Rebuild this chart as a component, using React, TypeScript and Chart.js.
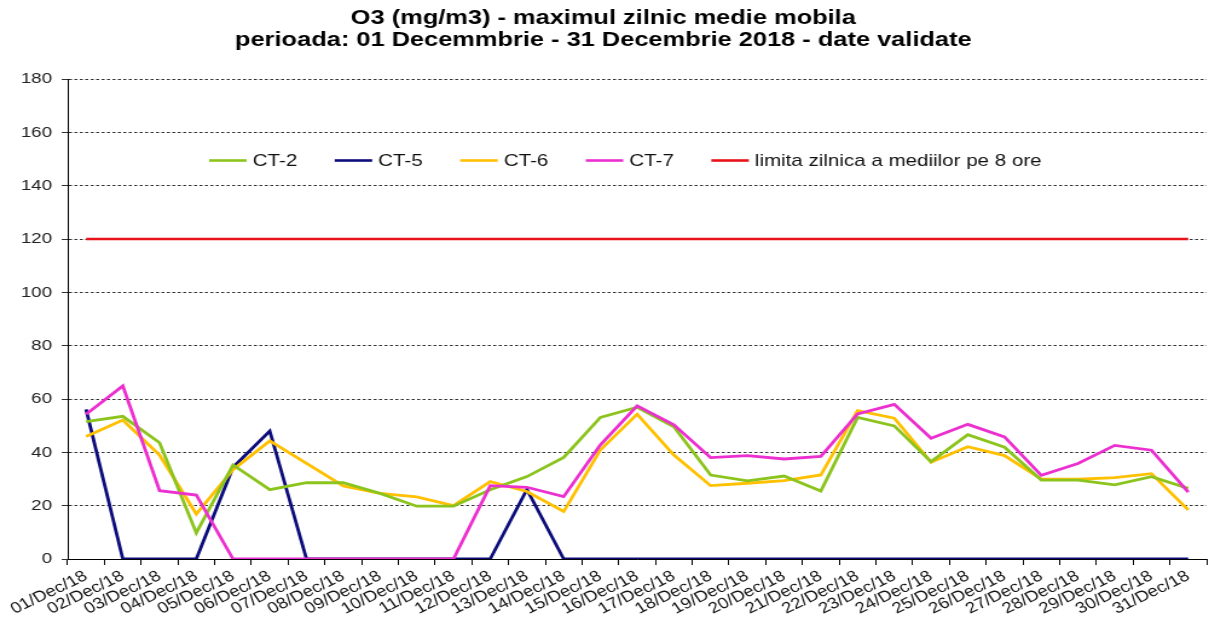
import React, { useEffect, useRef } from "react";
import { Chart, registerables } from "chart.js";

Chart.register(...registerables);

const titleLines = [
  "O3 (mg/m3) - maximul zilnic medie mobila",
  "perioada: 01 Decemmbrie - 31 Decembrie 2018 - date validate",
];

const categories = [
  "01/Dec/18", "02/Dec/18", "03/Dec/18", "04/Dec/18", "05/Dec/18", "06/Dec/18",
  "07/Dec/18", "08/Dec/18", "09/Dec/18", "10/Dec/18", "11/Dec/18", "12/Dec/18",
  "13/Dec/18", "14/Dec/18", "15/Dec/18", "16/Dec/18", "17/Dec/18", "18/Dec/18",
  "19/Dec/18", "20/Dec/18", "21/Dec/18", "22/Dec/18", "23/Dec/18", "24/Dec/18",
  "25/Dec/18", "26/Dec/18", "27/Dec/18", "28/Dec/18", "29/Dec/18", "30/Dec/18",
  "31/Dec/18",
];

const ct2 = [51.5, 53.5, 43.6, 9.8, 35.3, 26, 28.6, 28.6, 24.6, 19.8, 19.8, 26, 30.9, 38.1, 53.1, 56.9, 49.6, 31.5, 29.3, 31.1, 25.5, 53.1, 49.9, 36.5, 46.6, 41.9, 29.6, 29.6, 27.8, 30.9, 26.5];
const ct5 = [56.1, 0, 0, 0, 34.4, 48, 0, 0, 0, 0, 0, 0, 26.1, 0, 0, 0, 0, 0, 0, 0, 0, 0, 0, 0, 0, 0, 0, 0, 0, 0, 0];
const ct6 = [45.9, 52.1, 39, 16.9, 33.5, 44.3, 35.9, 27.4, 24.6, 23.3, 20, 29, 25.3, 17.8, 40.9, 54.3, 39, 27.5, 28.4, 29.4, 31.5, 55.6, 52.8, 36.3, 42.1, 38.8, 30, 29.9, 30.5, 32, 18.4];
const ct7 = [54.3, 64.9, 25.6, 24, 0, 0, 0, 0, 0, 0, 0, 27.5, 26.9, 23.4, 42.8, 57.4, 50.3, 38, 38.8, 37.5, 38.5, 54.4, 58, 45.3, 50.5, 45.8, 31.4, 35.8, 42.6, 40.8, 25.1];
const limit = [120, 120, 120, 120, 120, 120, 120, 120, 120, 120, 120, 120, 120, 120, 120, 120, 120, 120, 120, 120, 120, 120, 120, 120, 120, 120, 120, 120, 120, 120, 120];

const seriesLabels = ["CT-2", "CT-5", "CT-6", "CT-7", "limita zilnica a mediilor pe 8 ore"];
const seriesColors = ["#8cc41e", "#0c0c7a", "#ffc000", "#ec2fcf", "#e8121a"];

const yMin = 0;
const yMax = 180;
const yStep = 20;
const legendValue = 150;

const FONT = '"Liberation Sans", Arial, Helvetica, sans-serif';

const inlineLegend = {
  id: "inlineLegend",
  afterDatasetsDraw(chart: any) {
    const { ctx, chartArea, scales } = chart;
    const y = scales.y.getPixelForValue(legendValue) + 1.5;
    ctx.save();
    ctx.font = `17px ${FONT}`;
    ctx.textBaseline = "middle";
    ctx.textAlign = "left";
    let x = chartArea.left + 117;
    chart.data.datasets.forEach((ds: any) => {
      ctx.strokeStyle = ds.borderColor;
      ctx.lineWidth = 2.6;
      ctx.setLineDash([]);
      ctx.beginPath();
      ctx.moveTo(x, y);
      ctx.lineTo(x + 31, y);
      ctx.stroke();
      x += 36;
      ctx.fillStyle = "#111";
      ctx.fillText(ds.label, x, y + 1);
      x += ctx.measureText(ds.label).width + 31;
    });
    ctx.restore();
  },
};

export default function App() {
  const ref = useRef<HTMLCanvasElement | null>(null);

  useEffect(() => {
    if (!ref.current) return;
    const data = [ct2, ct5, ct6, ct7, limit];
    const orders = [1, 3, 2, 0, 4];
    const chart = new Chart(ref.current, {
      type: "line",
      data: {
        labels: categories,
        datasets: data.map((d, i) => ({
          label: seriesLabels[i],
          data: d,
          borderColor: seriesColors[i],
          backgroundColor: seriesColors[i],
          borderWidth: i === 4 ? 2.6 : 2.8,
          pointRadius: 0,
          tension: 0,
          fill: false,
          order: orders[i],
        })),
      },
      options: {
        animation: false,
        responsive: false,
        devicePixelRatio: 1,
        layout: { padding: { left: 0, right: 2, top: 0, bottom: 0 } },
        plugins: {
          legend: { display: false },
          tooltip: { enabled: false },
          title: {
            display: true,
            text: titleLines,
            color: "#000",
            font: { family: FONT, weight: "bold", size: 21, lineHeight: 1.05 },
            padding: { top: 7, bottom: 27.9 },
          },
        },
        scales: {
          x: {
            type: "category",
            offset: true,
            grid: {
              offset: true,
              drawOnChartArea: false,
              drawTicks: true,
              tickLength: 6,
              color: "#000",
              tickColor: "#000",
            },
            border: { display: true, color: "#000", width: 1 },
            ticks: {
              autoSkip: false,
              minRotation: 30,
              maxRotation: 30,
              padding: 2,
              color: "#111",
              font: { family: FONT, size: 15.5 },
            },
            afterFit(scale: any) {
              scale.height = 60;
            },
          },
          y: {
            min: yMin,
            max: yMax,
            ticks: {
              stepSize: yStep,
              padding: 8,
              color: "#222",
              font: { family: FONT, size: 15.5 },
            },
            grid: {
              color: "#333",
              lineWidth: 1,
              tickLength: 5,
              tickColor: "#333",
              tickBorderDash: [],
            },
            border: { display: true, color: "#000", width: 1, dash: [2.5, 2] },
            afterFit(scale: any) {
              scale.width = 56;
            },
          },
        },
      },
      plugins: [inlineLegend],
    } as any);
    return () => chart.destroy();
  }, []);

  return (
    <div style={{ position: "fixed", left: 0, top: 0, width: 1209, height: 619, background: "#fff" }}>
      <canvas
        ref={ref}
        width={1000}
        height={619}
        style={{ width: "1209px", height: "619px", display: "block" }}
      />
    </div>
  );
}
